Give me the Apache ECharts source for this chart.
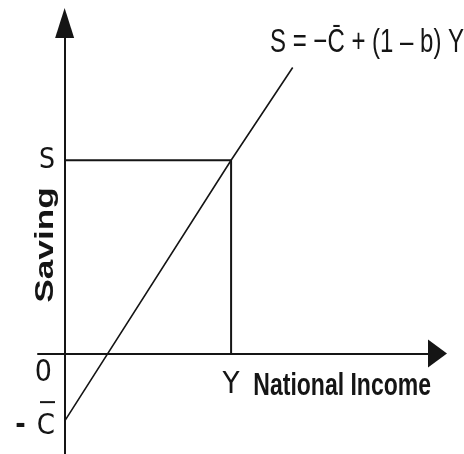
<!DOCTYPE html>
<html><head><meta charset="utf-8">
<script src="https://cdn.jsdelivr.net/npm/echarts@6/dist/echarts.min.js"></script>
<style>html,body{margin:0;padding:0;background:#fff}#c{width:464px;height:454px}</style>
</head><body><div id="c"></div>
<script>
// ---- data ----
const savingLine = [[0, -35], [100, 100], [137, 148]];   // S = -C + (1-b)Y
const guideLine = [[0, 100], [100, 100], [100, 0]];       // S level and Y level
const yTickValues = [-35, 100];
const yTickLabels = { '-35': 'C', '100': 'S' };
const originValues = [0];
const originLabel = '0';
const xTickValues = [100];
const xTickLabels = { '100': 'Y' };
const xAxisName = 'National Income';
const yAxisName = 'Saving';
const equationText = 'S = \u2212C\u0304 + (1 \u2013 b) Y';

const COND = "'DejaVu Sans Condensed', sans-serif";
const ARIAL = "'Liberation Sans', Arial, sans-serif";
const INK = '#151515';
const Y_MIN = -52, Y_MAX = 171;

const chart = echarts.init(document.getElementById('c'));
chart.setOption({
  backgroundColor: '#fff',
  animation: false,
  grid: { left: 38, right: 26.5, top: 23, bottom: 0, containLabel: false, outerBoundsMode: 'none' },
  xAxis: {
    type: 'value', min: -16, max: 224,
    splitLine: { show: false }, axisTick: { show: false },
    axisLine: { show: true, onZero: true, symbol: ['none', 'triangle'], symbolSize: [28, 19],
      lineStyle: { color: INK, width: 2 } },
    axisLabel: {
      customValues: xTickValues, margin: -85, hideOverlap: false,
      showMinLabel: true, showMaxLabel: true,
      formatter: v => xTickLabels[String(v)] || '',
      fontFamily: COND, fontSize: 31, color: INK
    }
  },
  yAxis: [{
    type: 'value', min: Y_MIN, max: Y_MAX,
    splitLine: { show: false }, axisTick: { show: false },
    axisLine: { show: true, onZero: true, symbol: ['none', 'triangle'], symbolSize: [19, 30],
      lineStyle: { color: INK, width: 2 } },
    axisLabel: {
      customValues: yTickValues, margin: -17, hideOverlap: false,
      showMinLabel: true, showMaxLabel: true,
      fontFamily: COND, fontSize: 28, color: INK,
      formatter: function (v) {
        const t = yTickLabels[String(v)];
        if (v < 0) return '{bar| }\n{m|-}{c|' + t + '}';
        return '{s|' + t + '}';
      },
      rich: {
        s: { fontFamily: COND, fontSize: 28, color: INK },
        bar: { width: 12, height: 2, lineHeight: 10, backgroundColor: INK, padding: [0, 3, 0, 0], verticalAlign: 'top' },
        m: { fontFamily: COND, fontSize: 28, fontWeight: 'bold', color: INK, lineHeight: 30, padding: [0, 11, 0, 0] },
        c: { fontFamily: COND, fontSize: 29, color: INK, lineHeight: 30 }
      }
    }
  }, {
    type: 'value', min: Y_MIN, max: Y_MAX, position: 'left',
    splitLine: { show: false }, axisTick: { show: false }, axisLine: { show: false },
    axisLabel: {
      customValues: originValues, margin: -14, hideOverlap: false,
      showMinLabel: true, showMaxLabel: true,
      formatter: () => '{z|' + originLabel + '}',
      rich: { z: { fontFamily: COND, fontSize: 30, color: INK, padding: [40, 0, 0, 0] } }
    }
  }],
  graphic: [
    { type: 'text', x: 46, y: 245, rotation: Math.PI / 2, scaleX: 1.41,
      style: { text: yAxisName, fontFamily: ARIAL, fontWeight: 'bold',
        fontSize: 25, fill: INK, align: 'center', verticalAlign: 'middle' } },
    { type: 'text', x: 431, y: 386, scaleY: 1.38,
      style: { text: xAxisName, fontFamily: ARIAL, fontWeight: 'bold',
        fontSize: 23, fill: INK, align: 'right', verticalAlign: 'middle' } },
    { type: 'text', x: 270, y: 43, scaleY: 1.4,
      style: { text: equationText, fontFamily: ARIAL,
        fontSize: 24, fill: INK, align: 'left', verticalAlign: 'middle' } }
  ],
  series: [
    { type: 'line', data: guideLine, symbol: 'none', silent: true, yAxisIndex: 0,
      lineStyle: { color: INK, width: 2 } },
    { type: 'line', data: savingLine, symbol: 'none', silent: true, yAxisIndex: 0,
      lineStyle: { color: INK, width: 1.6 } }
  ]
});
</script></body></html>
